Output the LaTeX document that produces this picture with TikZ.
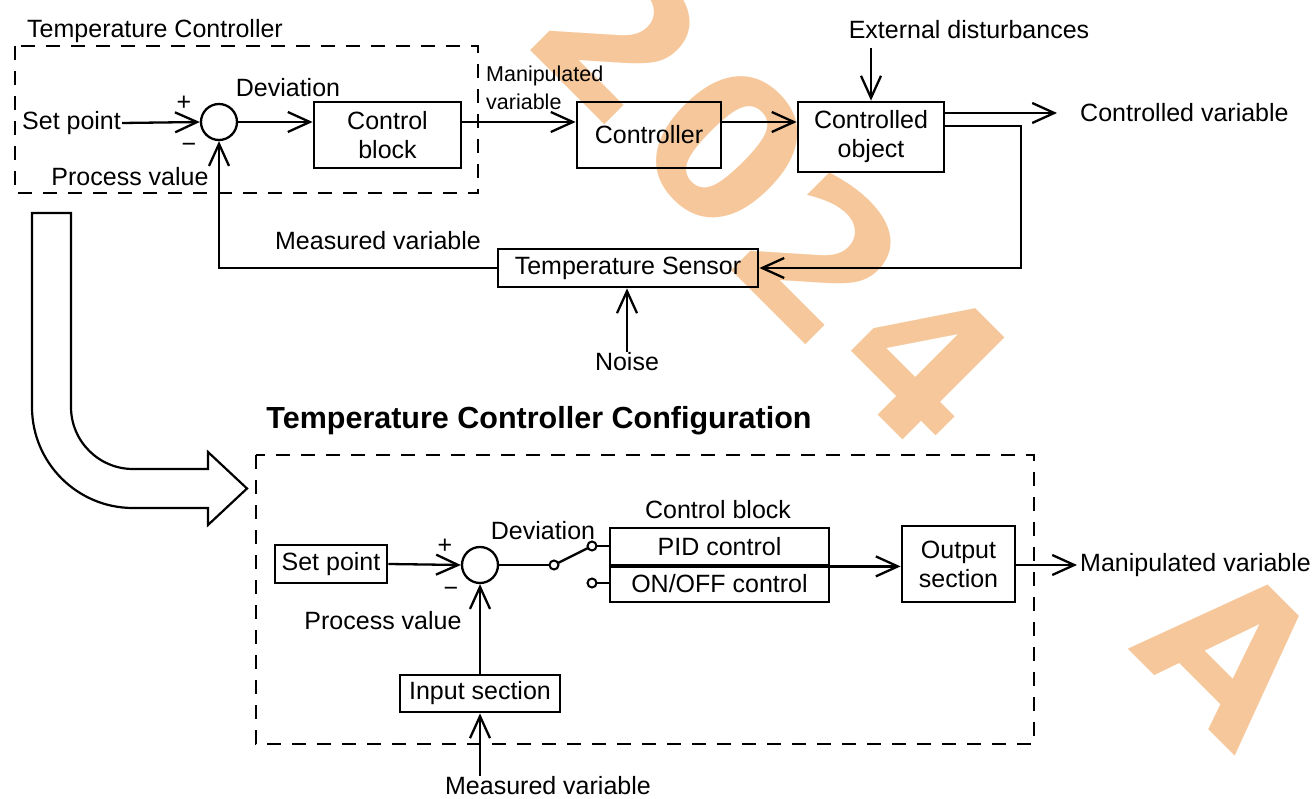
\documentclass[tikz,border=0pt]{standalone}
\usepackage{fontspec}
\setmainfont{Liberation Sans}
\newfontfamily\markfamily{DejaVu Sans}[UprightFont={* Bold}]
\usetikzlibrary{arrows.meta}
\newcommand\lblfont{\fontsize{25}{29}\selectfont}
\newcommand\smalllblfont{\fontsize{21.5}{28}\selectfont}
\newcommand\headfont{\fontsize{30.5}{34}\selectfont\bfseries}
\newcommand\markfont{\markfamily\fontsize{198}{198}\selectfont}
\definecolor{wmorange}{RGB}{245,199,154}

\begin{document}
\begin{tikzpicture}[x=1pt,y=-1pt,
  txt/.style={font=\lblfont, inner sep=1pt},
  blk/.style={draw, line width=2.8pt, inner sep=0pt, align=center, font=\lblfont},
  conn/.style={line width=2.3pt},
  arr/.style={line width=2.3pt, -{Straight Barb[length=22pt,width=20pt]}},
  sumpt/.style={circle, draw, line width=2.3pt, minimum size=36pt, inner sep=0pt},
  term/.style={circle, draw, line width=2pt, minimum size=9pt, inner sep=0pt, fill=white},
  frame/.style={draw, line width=2.2pt, dash pattern=on 14pt off 11pt},
  wm/.style={font=\markfont, text=wmorange, inner sep=0pt, rotate=-45}]

\useasboundingbox (0,0) rectangle (1315,799);

% ---------- watermark ----------
\begin{scope}
  \clip (0,0) rectangle (1315,799);
  \foreach \ch/\cx/\cy [count=\i] in {2/620/36, 0/727/147, 2/821/256, 4/926/361, A/1233/652}
    \node[wm] (wm\i) at (\cx,\cy) {\ch};
\end{scope}

% ---------- control loop ----------
\draw[frame] (15,46) rectangle (478,193);
\node[txt, anchor=west] (tctitle) at (26,31) {Temperature Controller};
\node[txt, anchor=west] (sp1) at (21,123) {Set point};
\node[sumpt] (s1) at (219,122) {};
\node[txt] (plus1) at (184,103) {+};
\node[txt] (minus1) at (189,148) {−};
\node[txt] (dev1) at (288,88) {Deviation};
\node[txt] (pv1) at (130,177) {Process value};
\node[blk, minimum width=147pt, minimum height=66pt] (cb) at (387.5,135) {Control\\block};
\node[txt, font=\smalllblfont, align=left, anchor=west] (mv1) at (485,88) {Manipulated\\variable};
\node[blk, minimum width=144pt, minimum height=66pt] (ctrl) at (649,135) {Controller};
\node[blk, minimum width=146pt, minimum height=70pt] (obj) at (871,137) {Controlled\\object};
\node[txt] (dist) at (969,30) {External disturbances};
\node[txt, anchor=west] (cv) at (1079,113) {Controlled variable};
\node[blk, minimum width=260pt, minimum height=38pt] (sens) at (628,268) {Temperature Sensor};
\node[txt] (mvar1) at (378,241) {Measured variable};
\node[txt] (noise) at (627,362) {Noise};
\coordinate (fbc) at (1021,268);

\draw[arr] (sp1.east) -- (s1.west);
\draw[arr] (s1.east) -- (s1.east -| cb.west);
\draw[arr] (s1.east -| cb.east) -- (s1.east -| ctrl.west);
\draw[arr] (s1.east -| ctrl.east) -- (s1.east -| obj.west);
\draw[arr] ([yshift=-8pt]dist.south -| obj.north) -- (obj.north);
\draw[arr] ([yshift=24pt]obj.east) -- ([xshift=-22pt]cv.west);
\draw[arr] ([yshift=11pt]obj.east) -| (fbc) -- (sens.east);
\draw[arr] (sens.west) -| (s1.south);
\draw[arr] (noise.north) -- (noise.north |- sens.south);

% ---------- hollow transition arrow ----------
\draw[line width=2.2pt, line join=miter]
  (32,213) -- (71,213) -- (71,407)
  .. controls (71,441.2) and (98.8,469) .. (133,469)
  -- (208,469) -- (208,452) -- (247,488.5) -- (208,525) -- (208,508) -- (133,508)
  .. controls (77.2,508) and (32,462.8) .. (32,407) -- cycle;

% ---------- controller configuration ----------
\node[txt, font=\headfont] (ttl) at (539,421) {Temperature Controller Configuration};
\draw[frame] (256,455) rectangle (1034,744);
\node[blk, minimum width=112pt, minimum height=38pt] (sp2) at (331,564) {Set point};
\node[sumpt] (s2) at (480,565) {};
\node[txt] (plus2) at (445,546) {+};
\node[txt] (minus2) at (451,592) {−};
\node[txt] (pv2) at (383,621) {Process value};
\node[blk, minimum width=160pt, minimum height=37pt] (inp) at (480,693.5) {Input section};
\node[txt] (mvar2) at (548,786) {Measured variable};
\node[txt] (dev2) at (543,531) {Deviation};
\node[txt] (cbl) at (718,510) {Control block};
\node[blk, minimum width=219pt, minimum height=37pt] (pid) at (719.5,546.5) {PID control};
\node[blk, minimum width=219pt, minimum height=37pt] (onoff) at (719.5,583.5) {ON/OFF control};
\node[blk, minimum width=113pt, minimum height=76pt] (outs) at (958.5,564) {Output\\section};
\node[txt, anchor=west] (mv2) at (1079,565) {Manipulated variable};

\draw[arr] (sp2.east) -- (s2.west);
\draw[arr] (inp.north) -- (s2.south);
\draw[arr] (mvar2.north -| inp.south) -- (inp.south);
\draw[conn] (s2.east) -- (554,565);
\draw[conn] (554,565) -- (592,546);
\draw[conn] (592,546) -- (592,546 -| pid.west);
\draw[conn] (592,583) -- (592,583 -| onoff.west);
\node[term] (piv) at (554,565) {};
\node[term] (t1) at (592,546) {};
\node[term] (t2) at (592,583) {};
\draw[line width=3.2pt] (pid.south west) -- (pid.south east);
\draw[arr] (pid.south east) -- (pid.south east -| outs.west);
\draw[arr] (outs.east |- s2) -- ([xshift=-2pt]mv2.west);
\end{tikzpicture}
\end{document}
